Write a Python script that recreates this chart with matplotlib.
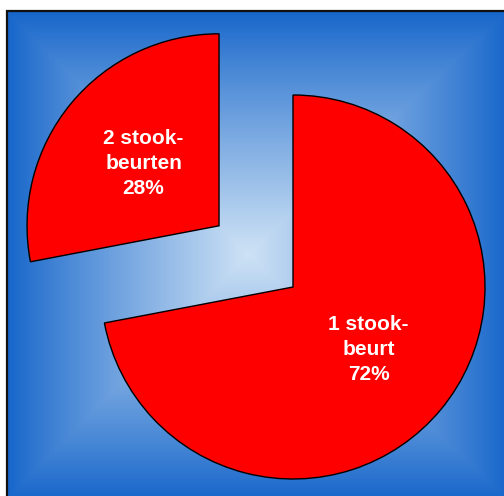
import numpy as np
import matplotlib
matplotlib.use('Agg')
import matplotlib.pyplot as plt
from matplotlib.patches import Rectangle

# data
categories = ['1 stook-\nbeurt', '2 stook-\nbeurten']
values = [72, 28]
labels = ['%s\n%d%%' % (c, v) for c, v in zip(categories, values)]

W, H = 504, 496
fig = plt.figure(figsize=(W / 100, H / 100), dpi=100)
ax = fig.add_axes([0, 0, 1, 1])

# background panel with rectangular gradient from centre
left, right, bottom, top = 7, 508, -4, 485
cx, cy = 248, 496 - 254
xs = np.linspace(left, right, 500)
ys = np.linspace(bottom, top, 500)
gx, gy = np.meshgrid(xs, ys)
tx = np.where(gx < cx, (cx - gx) / (cx - left), (gx - cx) / (right - cx))
ty = np.where(gy < cy, (cy - gy) / (cy - bottom), (gy - cy) / (top - cy))
t = np.clip(np.maximum(tx, ty), 0, 1)
dark = np.array([21, 101, 202]) / 255.
light = np.array([206, 226, 245]) / 255.
k = (1 - t) ** 0.9
img = dark[None, None, :] + (light - dark)[None, None, :] * k[:, :, None]
ax.imshow(img, extent=(left, right, bottom, top), origin='lower',
          interpolation='bilinear', zorder=0, aspect='auto')
ax.add_patch(Rectangle((left, bottom), right - left + 10, top - bottom, fill=False,
                       edgecolor='#111111', linewidth=1.6, zorder=1))

wedges, texts = ax.pie(values, labels=labels, colors=['#ff0000', '#ff0000'],
                       startangle=90, counterclock=False, explode=[0, 96],
                       center=(293, 209), radius=192, labeldistance=0.51,
                       frame=True,
                       wedgeprops=dict(edgecolor='black', linewidth=1.0),
                       textprops=dict(color='white', fontsize=15, fontweight='bold',
                                      family='Liberation Sans', ha='center',
                                      va='center', multialignment='center',
                                      linespacing=1.4))
for w in wedges:
    w.set_zorder(2)
for tx_ in texts:
    tx_.set_zorder(3)

ax.set_xlim(0, W)
ax.set_ylim(0, H)
ax.set_axis_off()
fig.savefig('out.png', dpi=100)
